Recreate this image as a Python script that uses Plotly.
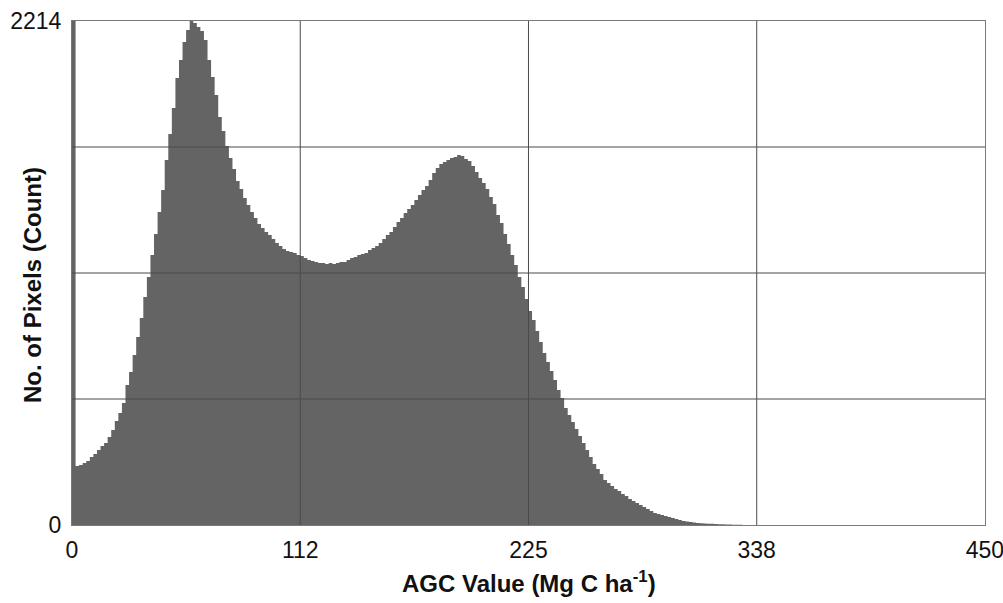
import plotly.graph_objects as go

# Histogram of AGC values: 256 bins spanning 0..450
x_min, x_max = 0, 450
n_bins = 256
counts = [
    2214, 259, 264, 272, 281, 299, 312, 329, 347, 360,
    387, 417, 457, 492, 536, 615, 672, 747, 826, 909,
    1002, 1089, 1186, 1278, 1375, 1472, 1603, 1718, 1832, 1964,
    2043, 2122, 2175, 2214, 2205, 2188, 2170, 2131, 2043, 1968,
    1889, 1792, 1731, 1665, 1612, 1564, 1511, 1476, 1437, 1406,
    1375, 1349, 1322, 1305, 1287, 1274, 1256, 1239, 1226, 1212,
    1204, 1199, 1195, 1186, 1182, 1173, 1164, 1160, 1155, 1151,
    1151, 1147, 1151, 1147, 1151, 1155, 1155, 1164, 1173, 1177,
    1186, 1191, 1195, 1208, 1217, 1226, 1239, 1256, 1274, 1287,
    1309, 1331, 1349, 1371, 1388, 1406, 1428, 1450, 1472, 1489,
    1516, 1546, 1568, 1586, 1595, 1603, 1612, 1617, 1625, 1621,
    1608, 1599, 1577, 1551, 1524, 1502, 1476, 1441, 1410, 1362,
    1327, 1278, 1234, 1186, 1142, 1089, 1046, 993, 940, 901,
    852, 804, 756, 716, 677, 637, 593, 558, 514, 483,
    452, 422, 391, 360, 329, 299, 268, 246, 224, 198,
    185, 171, 158, 149, 136, 127, 114, 105, 97, 88,
    79, 70, 62, 53, 48, 44, 40, 35, 31, 26,
    22, 18, 15, 13, 11, 9, 8, 7, 6, 5,
    4, 3, 3, 2, 2, 1, 1, 1,
]
counts = counts + [0] * (n_bins - len(counts))
bin_width = (x_max - x_min) / n_bins
bin_edges = [x_min + i * bin_width for i in range(n_bins + 1)]

x_tick_vals = [0, 112.5, 225, 337.5, 450]
x_tick_text = ["0", "112", "225", "338", "450"]
y_max = 2214
y_grid_vals = [553.5, 1107, 1660.5]

bar_color = "#646464"
grid_color = "#4a4a4a"
font_family = "Liberation Sans, Arial, sans-serif"

fig = go.Figure()
# histogram drawn as a filled step outline (one step per bin)
fig.add_trace(go.Scatter(
    x=bin_edges, y=counts + [counts[-1]],
    mode="lines", line=dict(shape="hv", width=0, color=bar_color),
    fill="tozeroy", fillcolor=bar_color,
    hoverinfo="x+y", showlegend=False,
))

shapes = []
for xv in x_tick_vals[1:-1]:
    shapes.append(dict(type="line", xref="x", yref="paper", x0=xv, x1=xv, y0=0, y1=1,
                       line=dict(color=grid_color, width=1), layer="above"))
for yv in y_grid_vals:
    shapes.append(dict(type="line", xref="paper", yref="y", x0=0, x1=1, y0=yv, y1=yv,
                       line=dict(color=grid_color, width=1), layer="above"))

annotations = [
    dict(text="<b>AGC Value (Mg C ha<sup>-1</sup>)</b>", xref="paper", yref="paper",
         x=0.5, y=0, xanchor="center", yanchor="middle", yshift=-57,
         showarrow=False, font=dict(size=24, color="#111111")),
    dict(text="<b>No. of Pixels (Count)</b>", xref="paper", yref="paper",
         x=0, y=0.5, xanchor="center", yanchor="middle", xshift=-40, yshift=-12,
         textangle=-90, showarrow=False, font=dict(size=24, color="#111111")),
]

fig.update_layout(
    width=1003, height=603,
    margin=dict(l=72, r=18, t=21, b=78, autoexpand=False),
    paper_bgcolor="white", plot_bgcolor="white",
    font=dict(family=font_family, size=23, color="#111111"),
    shapes=shapes,
    annotations=annotations,
    xaxis=dict(
        range=[x_min, x_max + 0.02], tickvals=x_tick_vals, ticktext=x_tick_text,
        showgrid=False, zeroline=False, ticks="", automargin=False,
        showline=True, linecolor="#7a7a7a", linewidth=1, mirror=True,
        tickfont=dict(size=23), ticklabelstandoff=4, ticklabeloverflow="allow",
    ),
    yaxis=dict(
        range=[0, y_max], tickvals=[0, y_max], ticktext=["0", "2214"],
        showgrid=False, zeroline=False, ticks="", automargin=False,
        showline=True, linecolor="#7a7a7a", linewidth=1, mirror=True,
        tickfont=dict(size=23), ticklabelstandoff=5,
    ),
)

fig.write_html("out.html")
